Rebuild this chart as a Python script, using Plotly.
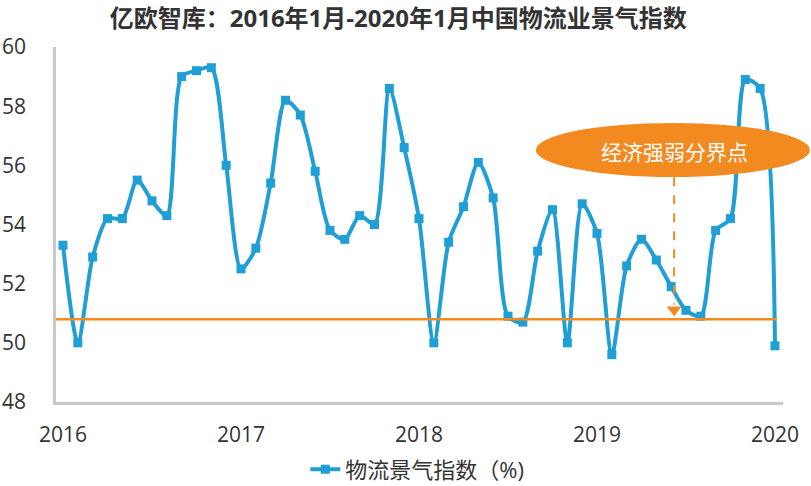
import plotly.graph_objects as go

months = [f"{y}-{m:02d}" for y in range(2016, 2020) for m in range(1, 13)] + ["2020-01"]
values = [53.3, 50.0, 52.9, 54.2, 54.2, 55.5, 54.8, 54.3, 59.0, 59.2, 59.3, 56.0,
          52.5, 53.2, 55.4, 58.2, 57.7, 55.8, 53.8, 53.5, 54.3, 54.0, 58.6, 56.6,
          54.2, 50.0, 53.4, 54.6, 56.1, 54.9, 50.9, 50.7, 53.1, 54.5, 50.0, 54.7,
          53.7, 49.6, 52.6, 53.5, 52.8, 51.9, 51.1, 50.9, 53.8, 54.2, 58.9, 58.6,
          49.9]
threshold = 50.8
tick_pos = [0, 12, 24, 36, 48]
tick_text = ["2016", "2017", "2018", "2019", "2020"]
y_ticks = [48, 50, 52, 54, 56, 58, 60]
marker_idx = 41.2

BLUE = "#1F9FD5"
ORANGE = "#F28A1F"
FONT = "Open Sans, Noto Sans CJK SC, sans-serif"

x = list(range(len(values)))

fig = go.Figure()
fig.add_trace(go.Scatter(
    x=x, y=values, mode="lines+markers", name="物流景气指数（%)",
    line=dict(color=BLUE, width=4, shape="spline", smoothing=0.75),
    marker=dict(symbol="square", size=9, color=BLUE),
    customdata=months, hovertemplate="%{customdata}: %{y}<extra></extra>",
))
fig.add_trace(go.Scatter(
    x=[-0.47, 48.1], y=[threshold, threshold], mode="lines",
    line=dict(color=ORANGE, width=2.5), showlegend=False, hoverinfo="skip",
))
fig.add_trace(go.Scatter(
    x=[marker_idx], y=[51.12], mode="markers",
    marker=dict(symbol="triangle-down", size=13, color=ORANGE),
    showlegend=False, hoverinfo="skip",
))

fig.add_shape(type="line", xref="x", yref="y", x0=marker_idx, x1=marker_idx,
              y0=55.6, y1=51.3, line=dict(color=ORANGE, width=2, dash="dash"))
fig.add_shape(type="circle", xref="paper", yref="paper",
              x0=0.660, x1=1.037, y0=0.634, y1=0.786,
              fillcolor=ORANGE, line=dict(width=0), layer="above")
fig.add_annotation(xref="paper", yref="paper", x=0.851, y=0.704,
                   xanchor="center", yanchor="middle",
                   text="经济强弱分界点", showarrow=False,
                   font=dict(family=FONT, size=21, color="white"))

fig.update_layout(
    width=811, height=486,
    margin=dict(l=56, r=28, t=47, b=84, autoexpand=False),
    paper_bgcolor="white", plot_bgcolor="white",
    title=dict(text="<b>亿欧智库：2016年1月-2020年1月中国物流业景气指数</b>",
               x=0.491, xanchor="center", y=0.961, yanchor="middle",
               font=dict(family=FONT, size=24, color="#333333")),
    font=dict(family=FONT, size=21, color="#333333"),
    showlegend=True,
    legend=dict(orientation="h", x=0.497, xanchor="center", y=-0.19, yanchor="middle",
                font=dict(size=22, color="#333333")),
    xaxis=dict(range=[-0.472, 48.54], tickvals=tick_pos, ticktext=tick_text,
               showgrid=False, zeroline=False, showline=True, linecolor="#C8C8C8",
               linewidth=2.5, ticks="", ticklabelstandoff=12, automargin=False),
    yaxis=dict(range=[48, 60], tickvals=y_ticks, showgrid=False, zeroline=False,
               showline=True, linecolor="#C8C8C8", linewidth=2.5, ticks="",
               ticklabelstandoff=23, automargin=False),
)

fig.write_html("out.html", config={"displayModeBar": False},
               post_script="document.body.style.margin='0';document.body.style.overflow='hidden';")
